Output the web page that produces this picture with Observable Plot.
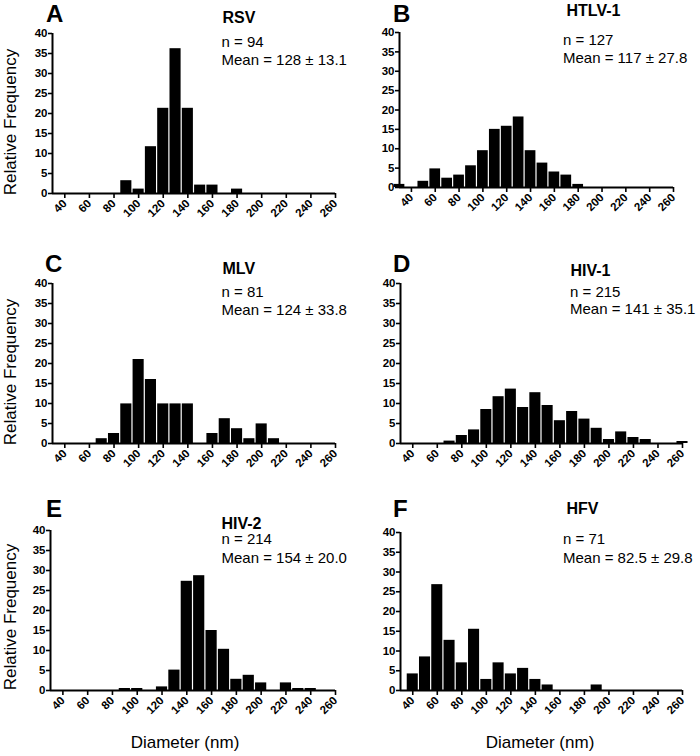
<!DOCTYPE html>
<html>
<head>
<meta charset="utf-8">
<script src="https://cdn.jsdelivr.net/npm/d3@7"></script>
<script src="https://cdn.jsdelivr.net/npm/@observablehq/plot@0.6"></script>
<style>
  html, body { margin: 0; padding: 0; background: #fff; }
  #fig { position: relative; width: 700px; height: 756px; overflow: hidden; background: #fff; font-family: "Liberation Sans", Arial, sans-serif; color: #000; }
  .panel { position: absolute; }
  .t { position: absolute; line-height: 1; white-space: nowrap; }
  .letter { font-size: 24px; font-weight: bold; }
  .title { font-size: 16px; font-weight: bold; line-height: 0.85; }
  .stat { font-size: 15px; line-height: 0.9; }
  .axt { font-size: 17px; }
  .rot { transform: translate(-50%, -50%) rotate(-90deg); }
  .ctr { transform: translateX(-50%); }
</style>
</head>
<body>
<div id="fig"></div>
<script>
// ---- data (bin centre, nm) and relative frequency (%) ----
const xTicks = [40, 60, 80, 100, 120, 140, 160, 180, 200, 220, 240, 260];
const yTicks = [0, 5, 10, 15, 20, 25, 30, 35, 40];

const binsA = [90, 100, 110, 120, 130, 140, 150, 160, 180];
const freqA = [3.2, 1.1, 11.7, 21.3, 36.2, 21.3, 2.1, 2.1, 1.1];

const binsB = [30, 50, 60, 70, 80, 90, 100, 110, 120, 130, 140, 150, 160, 170, 180];
const freqB = [0.8, 1.6, 4.8, 2.4, 3.2, 5.6, 9.5, 15.0, 15.8, 18.2, 9.5, 6.3, 4.0, 3.2, 0.8];

const binsC = [70, 80, 90, 100, 110, 120, 130, 140, 160, 170, 180, 190, 200, 210];
const freqC = [1.2, 2.5, 9.9, 21.0, 16.0, 9.9, 9.9, 9.9, 2.5, 6.2, 3.7, 1.2, 4.9, 1.2];

const binsD = [70, 80, 90, 100, 110, 120, 130, 140, 150, 160, 170, 180, 190, 200, 210, 220, 230, 260];
const freqD = [0.6, 2.0, 3.4, 8.5, 11.7, 13.6, 9.0, 12.7, 9.5, 5.7, 8.0, 6.1, 3.8, 1.0, 2.9, 1.5, 1.0, 0.5];

const binsE = [90, 100, 120, 130, 140, 150, 160, 170, 180, 190, 200, 220, 230, 240];
const freqE = [0.5, 0.5, 0.9, 5.1, 27.3, 28.7, 15.0, 10.3, 2.8, 3.8, 1.9, 1.9, 0.5, 0.5];

const binsF = [40, 50, 60, 70, 80, 90, 100, 110, 120, 130, 140, 150, 190];
const freqF = [4.2, 8.5, 26.8, 12.7, 7.0, 15.5, 2.8, 7.0, 4.2, 5.6, 2.8, 1.4, 1.4];

const letters = ["A", "B", "C", "D", "E", "F"];
const viruses = ["RSV", "HTLV-1", "MLV", "HIV-1", "HIV-2", "HFV"];
const counts = ["n = 94", "n = 127", "n = 81", "n = 215", "n = 214", "n = 71"];
const means = ["Mean = 128 ± 13.1", "Mean = 117 ± 27.8", "Mean = 124 ± 33.8",
               "Mean = 141 ± 35.1", "Mean = 154 ± 20.0", "Mean = 82.5 ± 29.8"];
const yLabel = "Relative Frequency";
const xLabel = "Diameter (nm)";

const series = [[binsA, freqA], [binsB, freqB], [binsC, freqC], [binsD, freqD], [binsE, freqE], [binsF, freqF]];

// ---- layout ----
const binWidth = 10;
const layout = [
  {left: 0,   top: 0,   ml: 52, mr: 15, mt: 33, mb: 52,
   letter: [46, 2], title: [222.5, 11], n: [221.5, 35], mean: [221.5, 52.5]},
  {left: 350, top: 0,   ml: 49, mr: 27, mt: 32, mb: 58,
   letter: [393, 2], title: [566.5, 4], n: [563, 32.5], mean: [563, 51]},
  {left: 0,   top: 245, ml: 52, mr: 15, mt: 38, mb: 47,
   letter: [45, 252], title: [222.5, 262], n: [221.5, 285], mean: [221.5, 303]},
  {left: 350, top: 245, ml: 50, mr: 18, mt: 38, mb: 47,
   letter: [393, 252], title: [570.5, 264], n: [570, 285], mean: [570, 302]},
  {left: 0,   top: 490, ml: 50, mr: 15, mt: 40, mb: 45,
   letter: [46, 497], title: [221.5, 516.5], n: [221.5, 532], mean: [221.5, 551]},
  {left: 350, top: 490, ml: 50, mr: 18, mt: 42, mb: 45,
   letter: [393, 497], title: [566.5, 502], n: [563, 532], mean: [563, 551]}
];

const fig = document.getElementById("fig");

function addText(cls, txt, x, y) {
  const d = document.createElement("div");
  d.className = "t " + cls;
  d.textContent = txt;
  d.style.left = x + "px";
  d.style.top = y + "px";
  fig.appendChild(d);
  return d;
}

series.forEach(([bins, freq], i) => {
  const L = layout[i];
  const data = bins.map((b, j) => ({d: b, f: freq[j]}));
  const chart = Plot.plot({
    width: 350,
    height: 245,
    marginLeft: L.ml,
    marginRight: L.mr,
    marginTop: L.mt,
    marginBottom: L.mb,
    x: {domain: [30, 260]},
    y: {domain: [0, 40]},
    style: {fontFamily: "Liberation Sans, Arial, sans-serif", color: "#000", background: "transparent", overflow: "visible"},
    marks: [
      Plot.rectY(data, {
        x1: d => d.d - binWidth / 2,
        x2: d => d.d + binWidth / 2,
        y: "f",
        fill: "#000",
        insetLeft: 0.6,
        insetRight: 0.6
      }),
      Plot.axisY({ticks: yTicks, tickSize: 4, tickPadding: 1, fontSize: 11.5, fontWeight: "bold", label: null, strokeWidth: 1.6}),
      Plot.axisX({ticks: xTicks, tickSize: 5, tickPadding: 3, tickRotate: -45, fontSize: 11.5, fontWeight: "bold", label: null, strokeWidth: 1.6}),
      Plot.ruleX([30], {strokeWidth: 2}),
      Plot.ruleY([0], {strokeWidth: 2})
    ]
  });
  chart.classList.add("panel");
  chart.style.left = L.left + "px";
  chart.style.top = L.top + "px";
  fig.appendChild(chart);

  addText("letter", letters[i], L.letter[0], L.letter[1]);
  addText("title", viruses[i], L.title[0], L.title[1]);
  addText("stat", counts[i], L.n[0], L.n[1]);
  addText("stat", means[i], L.mean[0], L.mean[1]);
});

// axis titles
[122, 372, 617].forEach(cy => addText("axt rot", yLabel, 10, cy));
[185, 540].forEach(cx => addText("axt ctr", xLabel, cx, 734));
</script>
</body>
</html>
